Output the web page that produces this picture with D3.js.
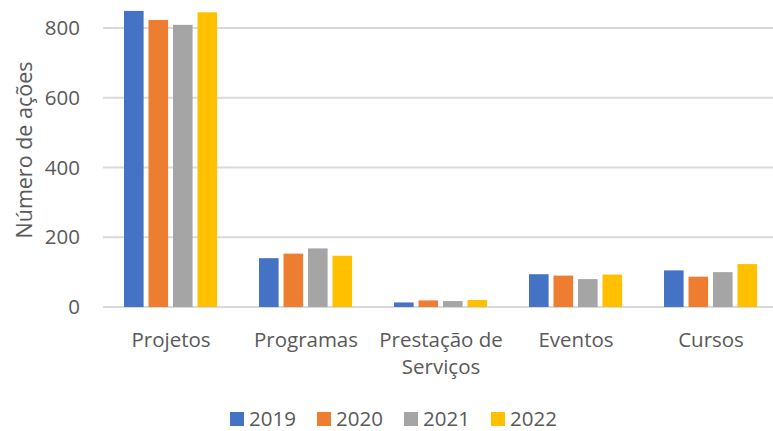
<!DOCTYPE html>
<html>
<head>
<meta charset="utf-8">
<script src="https://cdn.jsdelivr.net/npm/d3@7"></script>
<style>
  body { margin: 0; background: #fff; }
  svg text { font-family: "Open Sans", sans-serif; fill: #595959; }
</style>
</head>
<body>
<div id="chart"></div>
<script>
// data
var categories = ["Projetos", "Programas", "Prestação de Serviços", "Eventos", "Cursos"];
var years = ["2019", "2020", "2021", "2022"];
var v2019 = [849, 140, 13, 94, 105];
var v2020 = [823, 153, 19, 90, 87];
var v2021 = [809, 168, 17, 80, 100];
var v2022 = [845, 147, 20, 93, 123];
var yTicks = [0, 200, 400, 600, 800];
var colors = ["#4472C4", "#ED7D31", "#A5A5A5", "#FFC000"];

var series = [v2019, v2020, v2021, v2022];
var rows = categories.map(function (c, i) {
    return { cat: c, vals: years.map(function (y, j) { return { year: y, v: series[j][i] }; }) };
});

var width = 773, height = 431;
var svg = d3.select("#chart").append("svg")
    .attr("width", width)
    .attr("height", height);

var x0 = d3.scaleBand().domain(categories).range([103.5, 778.5]);
var x1 = d3.scaleBand().domain(years).range([20.5, 113.6]).paddingInner(0.2).paddingOuter(0);
var y = d3.scaleLinear().domain([0, 800]).range([307, 28]);

// gridlines
svg.append("g")
    .selectAll("line")
    .data(yTicks)
    .enter().append("line")
    .attr("x1", 103).attr("x2", width)
    .attr("y1", function (d) { return y(d); })
    .attr("y2", function (d) { return y(d); })
    .attr("stroke", "#d9d9d9")
    .attr("stroke-width", 2);

// y tick labels
svg.append("g")
    .selectAll("text")
    .data(yTicks)
    .enter().append("text")
    .attr("x", 80)
    .attr("y", function (d) { return y(d); })
    .attr("dy", "0.35em")
    .attr("text-anchor", "end")
    .style("font-size", "20.5px")
    .text(function (d) { return d; });

// y title
svg.append("text")
    .attr("transform", "translate(32,150) rotate(-90)")
    .attr("text-anchor", "middle")
    .style("font-size", "21.5px")
    .text("Número de ações");

// bars
var group = svg.append("g")
    .selectAll("g")
    .data(rows)
    .enter().append("g")
    .attr("transform", function (d) { return "translate(" + x0(d.cat) + ",0)"; });

group.selectAll("rect")
    .data(function (d) { return d.vals; })
    .enter().append("rect")
    .attr("x", function (d) { return x1(d.year); })
    .attr("width", x1.bandwidth())
    .attr("y", function (d) { return y(d.v); })
    .attr("height", function (d) { return y(0) - y(d.v); })
    .attr("fill", function (d, i) { return colors[i]; });

// category labels (wrapped like the original)
var labelLines = {
    "Prestação de Serviços": ["Prestação de", "Serviços"]
};
var catLabel = svg.append("g")
    .selectAll("text")
    .data(categories)
    .enter().append("text")
    .attr("text-anchor", "middle")
    .style("font-size", "20.5px")
    .attr("transform", function (d) {
        return "translate(" + (x0(d) + x0.bandwidth() / 2) + ",347)";
    });
catLabel.each(function (d) {
    var lines = labelLines[d] || [d];
    var t = d3.select(this);
    lines.forEach(function (l, i) {
        t.append("tspan").attr("x", 0).attr("y", i * 27).text(l);
    });
});

// legend
var legend = svg.append("g")
    .selectAll("g")
    .data(years)
    .enter().append("g")
    .attr("transform", function (d, i) { return "translate(" + (230 + i * 87) + ",412)"; });
legend.append("rect")
    .attr("width", 14).attr("height", 14)
    .attr("fill", function (d, i) { return colors[i]; });
legend.append("text")
    .attr("x", 19)
    .attr("y", 7)
    .attr("dy", "0.35em")
    .style("font-size", "20.5px")
    .text(function (d) { return d; });
</script>
</body>
</html>
